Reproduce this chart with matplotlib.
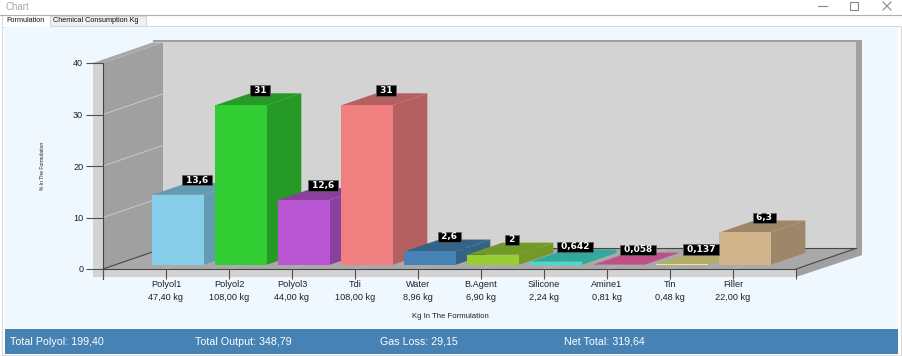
import matplotlib
matplotlib.use("Agg")
import matplotlib.pyplot as plt
from matplotlib.patches import Polygon, Rectangle
import matplotlib.colors as mcolors

plt.rcParams['font.family'] = ['Liberation Sans', 'DejaVu Sans']

# chart data
categories = ["Polyol1", "Polyol2", "Polyol3", "Tdi", "Water", "B.Agent",
              "Silicone", "Amine1", "Tin", "Filler"]
percent = [13.6, 31, 12.6, 31, 2.6, 2, 0.642, 0.058, 0.137, 6.3]
kg = [47.40, 108.00, 44.00, 108.00, 8.96, 6.90, 2.24, 0.81, 0.48, 22.00]
bar_colors = ["#87ceeb", "#32cd32", "#ba55d3", "#f08080", "#4682b4", "#9acd32",
              "#40e0d0", "#ff69b4", "#f0e68c", "#d2b48c"]
y_ticks = [0, 10, 20, 30, 40]
total_names = ["Total Polyol", "Total Output", "Gas Loss", "Net Total"]
total_values = [199.40, 348.79, 29.15, 319.64]


def comma(s):
    return s.replace(".", ",")


def shade(c, f=0.75):
    r, g, b = mcolors.to_rgb(c)
    return (r * f, g * f, b * f)


W, H = 903, 356
fig = plt.figure(figsize=(W / 100, H / 100), dpi=100)
fig.patch.set_facecolor("white")

# window chrome in pixel coords
bg = fig.add_axes([0, 0, 1, 1])
bg.set_xlim(0, W)
bg.set_ylim(H, 0)
bg.axis("off")

bg.text(6, 7, "Chart", fontsize=7, color="#a8a8a8", va="center")
bg.plot([818, 827], [6, 6], color="#888888", lw=0.8)
bg.add_patch(Rectangle((850, 2), 8, 8, fill=False, ec="#888888", lw=0.8))
bg.plot([883, 891], [2, 10], color="#888888", lw=0.8)
bg.plot([883, 891], [10, 2], color="#888888", lw=0.8)
bg.plot([0, W], [14.5, 14.5], color="#b0b0b0", lw=0.8)

bg.add_patch(Rectangle((2, 25.5), W - 4, H - 27, fc="white", ec="#d9d9d9", lw=0.8))
bg.add_patch(Rectangle((50, 16), 96, 10, fc="#f0f0f0", ec="#d9d9d9", lw=0.8))
bg.add_patch(Rectangle((2, 15), 48, 11.5, fc="white", ec="#d9d9d9", lw=0.8))
bg.plot([3, 49], [26, 26], color="white", lw=1.2)
bg.text(6, 20, "Formulation", fontsize=5.2, va="center", color="#101010")
bg.text(53, 21, "Chemical Consumption Kg", fontsize=5.2, va="center", color="#101010")

bg.add_patch(Rectangle((5, 27), 893, 302, fc="#f0f8ff", ec="none"))
bg.add_patch(Rectangle((5, 329), 893, 25, fc="#4682b4", ec="none"))
tx = [10, 195, 380, 564]
for x, name, val in zip(tx, total_names, total_values):
    bg.text(x, 342, comma(f"{name}: {val:.2f}"), fontsize=7.7, color="white", va="center")

bg.text(450, 316, "Kg In The Formulation", fontsize=5.6, ha="center", va="center", color="#202020")
bg.text(43, 166, "% In The Formulation", fontsize=3.6, rotation=90,
        ha="center", va="center", color="#202020")

# main axes = front plane of the 3D box
ax = fig.add_axes([103 / W, (H - 269) / H, 693 / W, 206 / H])
ax.set_xlim(-1, 10)
ax.set_ylim(0, 40)
ax.patch.set_visible(False)
for s in ax.spines.values():
    s.set_visible(False)

px_x = 693 / 11.0
px_y = 206 / 40.0
DX = 60 / px_x      # depth direction in data units
DY = 20.6 / px_y
wall = 10 / px_x
floor_h = 8 / px_y
edge_x = 6 / px_x
x0, x1 = -1, 10
top = 40


def poly(pts, color, z, **kw):
    ax.add_patch(Polygon(pts, closed=True, fc=color, ec="none", zorder=z, clip_on=False, **kw))


# back wall
poly([(x0 + DX, DY), (x1 + DX, DY), (x1 + DX, top + DY), (x0 + DX, top + DY)], "#d3d3d3", 1)
poly([(x1 + DX, DY - 1.3), (x1 + DX + edge_x, DY - 1.3), (x1 + DX + edge_x, top + DY + 0.5),
      (x1 + DX, top + DY + 0.5)], "#a0a0a0", 1)
poly([(x0 + DX - wall, top + DY), (x1 + DX + edge_x, top + DY), (x1 + DX + edge_x, top + DY + 0.5),
      (x0 + DX - wall, top + DY + 0.5)], "#a0a0a0", 1)
# left wall
poly([(x0, 0), (x0 + DX, DY), (x0 + DX, top + DY), (x0, top)], "#a0a0a0", 1.1)
poly([(x0 - wall, -floor_h), (x0, -floor_h), (x0, top), (x0 - wall, top)], "#d3d3d3", 1.1)
poly([(x0 - wall, top), (x0, top), (x0 + DX, top + DY), (x0 + DX - wall, top + DY)], "#a8a8a8", 1.1)
# floor
poly([(x0, 0), (x1, 0), (x1 + DX, DY), (x0 + DX, DY)], "#a9a9a9", 1.2)
poly([(x0, -floor_h), (x1, -floor_h), (x1, 0), (x0, 0)], "#d3d3d3", 1.2)
poly([(x1, 0), (x1 + DX, DY), (x1 + DX + edge_x, DY), (x1 + DX + edge_x, DY - 1.3),
      (x1, -floor_h)], "#a0a0a0", 1.2)

# gridlines on left wall and floor
for v in y_ticks[1:-1]:
    ax.plot([x0, x0 + DX], [v, v + DY], color="#c8c8c8", lw=0.7, zorder=1.3, clip_on=False)
for i in range(len(categories)):
    ax.plot([i, i + DX], [0, DY], color="#b8b8b8", lw=0.6, zorder=1.3, clip_on=False)

# box edges
ec = "#454545"
ax.plot([x0, x1], [0, 0], color=ec, lw=0.8, zorder=1.4, clip_on=False)
ax.plot([x0, x0], [-1.9, top], color=ec, lw=0.8, zorder=1.4, clip_on=False)
ax.plot([x0, x0 + DX], [0, DY], color=ec, lw=0.8, zorder=1.4, clip_on=False)
ax.plot([x0 + DX, x1 + DX], [DY, DY], color=ec, lw=0.8, zorder=1.4, clip_on=False)
ax.plot([x1, x1 + DX], [0, DY], color=ec, lw=0.8, zorder=1.4, clip_on=False)

# ticks
ax.set_axisbelow(False)
ax.set_yticks(y_ticks)
ax.set_yticklabels([str(v) for v in y_ticks])
ax.tick_params(axis="y", length=12.2, width=0.8, color="#505050", pad=2,
               labelsize=6.6, labelcolor="#202020")
ax.set_xticks(range(-1, len(categories) + 1))
ax.set_xticklabels([""] + categories + [""])
ax.tick_params(axis="x", length=7.2, width=0.8, color="#505050", pad=1,
               labelsize=6.6, labelcolor="#202020")

for i, k in enumerate(kg):
    ax.annotate(comma(f"{k:.2f}") + " kg", xy=(i, 0), xytext=(0, -20.2),
                textcoords="offset points", ha="center", va="center",
                fontsize=6.6, color="#202020", annotation_clip=False)

# 3D bars
t0, t1 = 0.2, 0.78
half = 0.405
ddx, ddy = (t1 - t0) * DX, (t1 - t0) * DY
for i, (v, c) in enumerate(zip(percent, bar_colors)):
    z = 3 + i * 0.1
    xl = i - half + t0 * DX
    xr = i + half + t0 * DX
    yb = t0 * DY
    yt = v + t0 * DY
    dark = shade(c)
    poly([(xr, yb), (xr + ddx, yb + ddy), (xr + ddx, yt + ddy), (xr, yt)], dark, z)
    poly([(xl, yt), (xr, yt), (xr + ddx, yt + ddy), (xl + ddx, yt + ddy)], dark, z)
    poly([(xl, yb), (xr, yb), (xr, yt), (xl, yt)], c, z + 0.01)

    tm = (t0 + t1) / 2
    ax.annotate(" " + comma(f"{v:g}") + " ", xy=(i + tm * DX + 0.03, v + tm * DY),
                xytext=(0, 3.0), textcoords="offset points", ha="center", va="bottom",
                fontsize=6.5, fontweight="bold", family="DejaVu Sans", color="white",
                bbox=dict(boxstyle="square,pad=0.08", fc="black", ec="#606060", lw=0.5),
                zorder=10, annotation_clip=False)

fig.savefig("out.png", dpi=100)
